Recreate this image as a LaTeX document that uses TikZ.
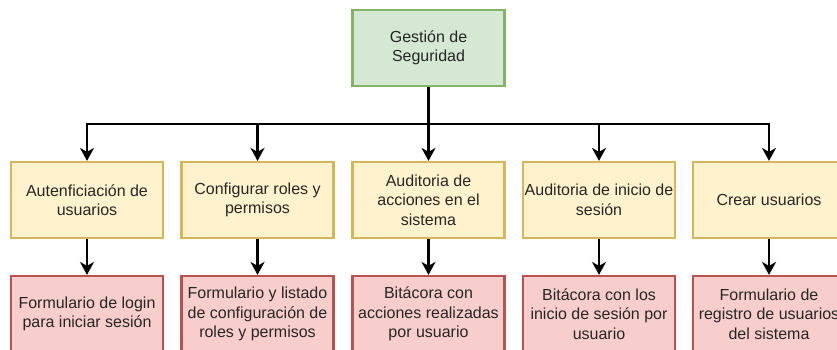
\documentclass[tikz,border=0pt]{standalone}
\usepackage{fontspec}
\setmainfont{Liberation Sans}
\usetikzlibrary{arrows.meta}
\definecolor{gfill}{HTML}{D5E8D4}
\definecolor{gdraw}{HTML}{82B366}
\definecolor{yfill}{HTML}{FFF2CC}
\definecolor{ydraw}{HTML}{D6B656}
\definecolor{rfill}{HTML}{F8CECC}
\definecolor{rdraw}{HTML}{B85450}
\tikzset{
  box/.style={rectangle, minimum width=152pt, minimum height=76pt, inner sep=0pt,
    line width=2.2pt, align=center, font=\fontsize{16}{19.5}\selectfont, text=black!85},
  gbox/.style={box, fill=gfill, draw=gdraw},
  ybox/.style={box, fill=yfill, draw=ydraw},
  rbox/.style={box, fill=rfill, draw=rdraw},
  arr/.style={line width=2.7pt, -{Stealth[length=13pt,width=14pt,inset=4pt]}},
  link/.style={line width=2.7pt}
}
\begin{document}
\begin{tikzpicture}[x=1pt,y=-1pt]
\useasboundingbox (0,0) rectangle (837,349);
\node[gbox] (top) at (428.5,48) {Gestión de\\Seguridad};
\node[ybox] (y1) at (87,200) {Autenficiación de\\usuarios};
\node[ybox] (y2) at (257.5,200) {Configurar roles y\\permisos};
\node[ybox] (y3) at (428.5,200) {Auditoria de\\acciones en el\\sistema};
\node[ybox] (y4) at (599,200) {Auditoria de inicio de\\sesión};
\node[ybox] (y5) at (769,200) {Crear usuarios};
\node[rbox] (r1) at (87,314) {Formulario de login\\para iniciar sesión};
\node[rbox] (r2) at (257.5,314) {Formulario y listado\\de configuración de\\roles y permisos};
\node[rbox] (r3) at (428.5,314) {Bitácora con\\acciones realizadas\\por usuario};
\node[rbox] (r4) at (599,314) {Bitácora con los\\inicio de sesión por\\usuario};
\node[rbox] (r5) at (769,314) {Formulario de\\registro de usuarios\\del sistema};
\coordinate (bus) at (428.5,124);
\draw[link] (top.south) -- (bus);
\foreach \n in {y1,y2,y3,y4,y5}{
  \draw[arr] (bus) -| (\n.north);
}
\foreach \a/\b in {y1/r1,y2/r2,y3/r3,y4/r4,y5/r5}{
  \draw[arr] (\a.south) -- (\b.north);
}
\end{tikzpicture}
\end{document}
